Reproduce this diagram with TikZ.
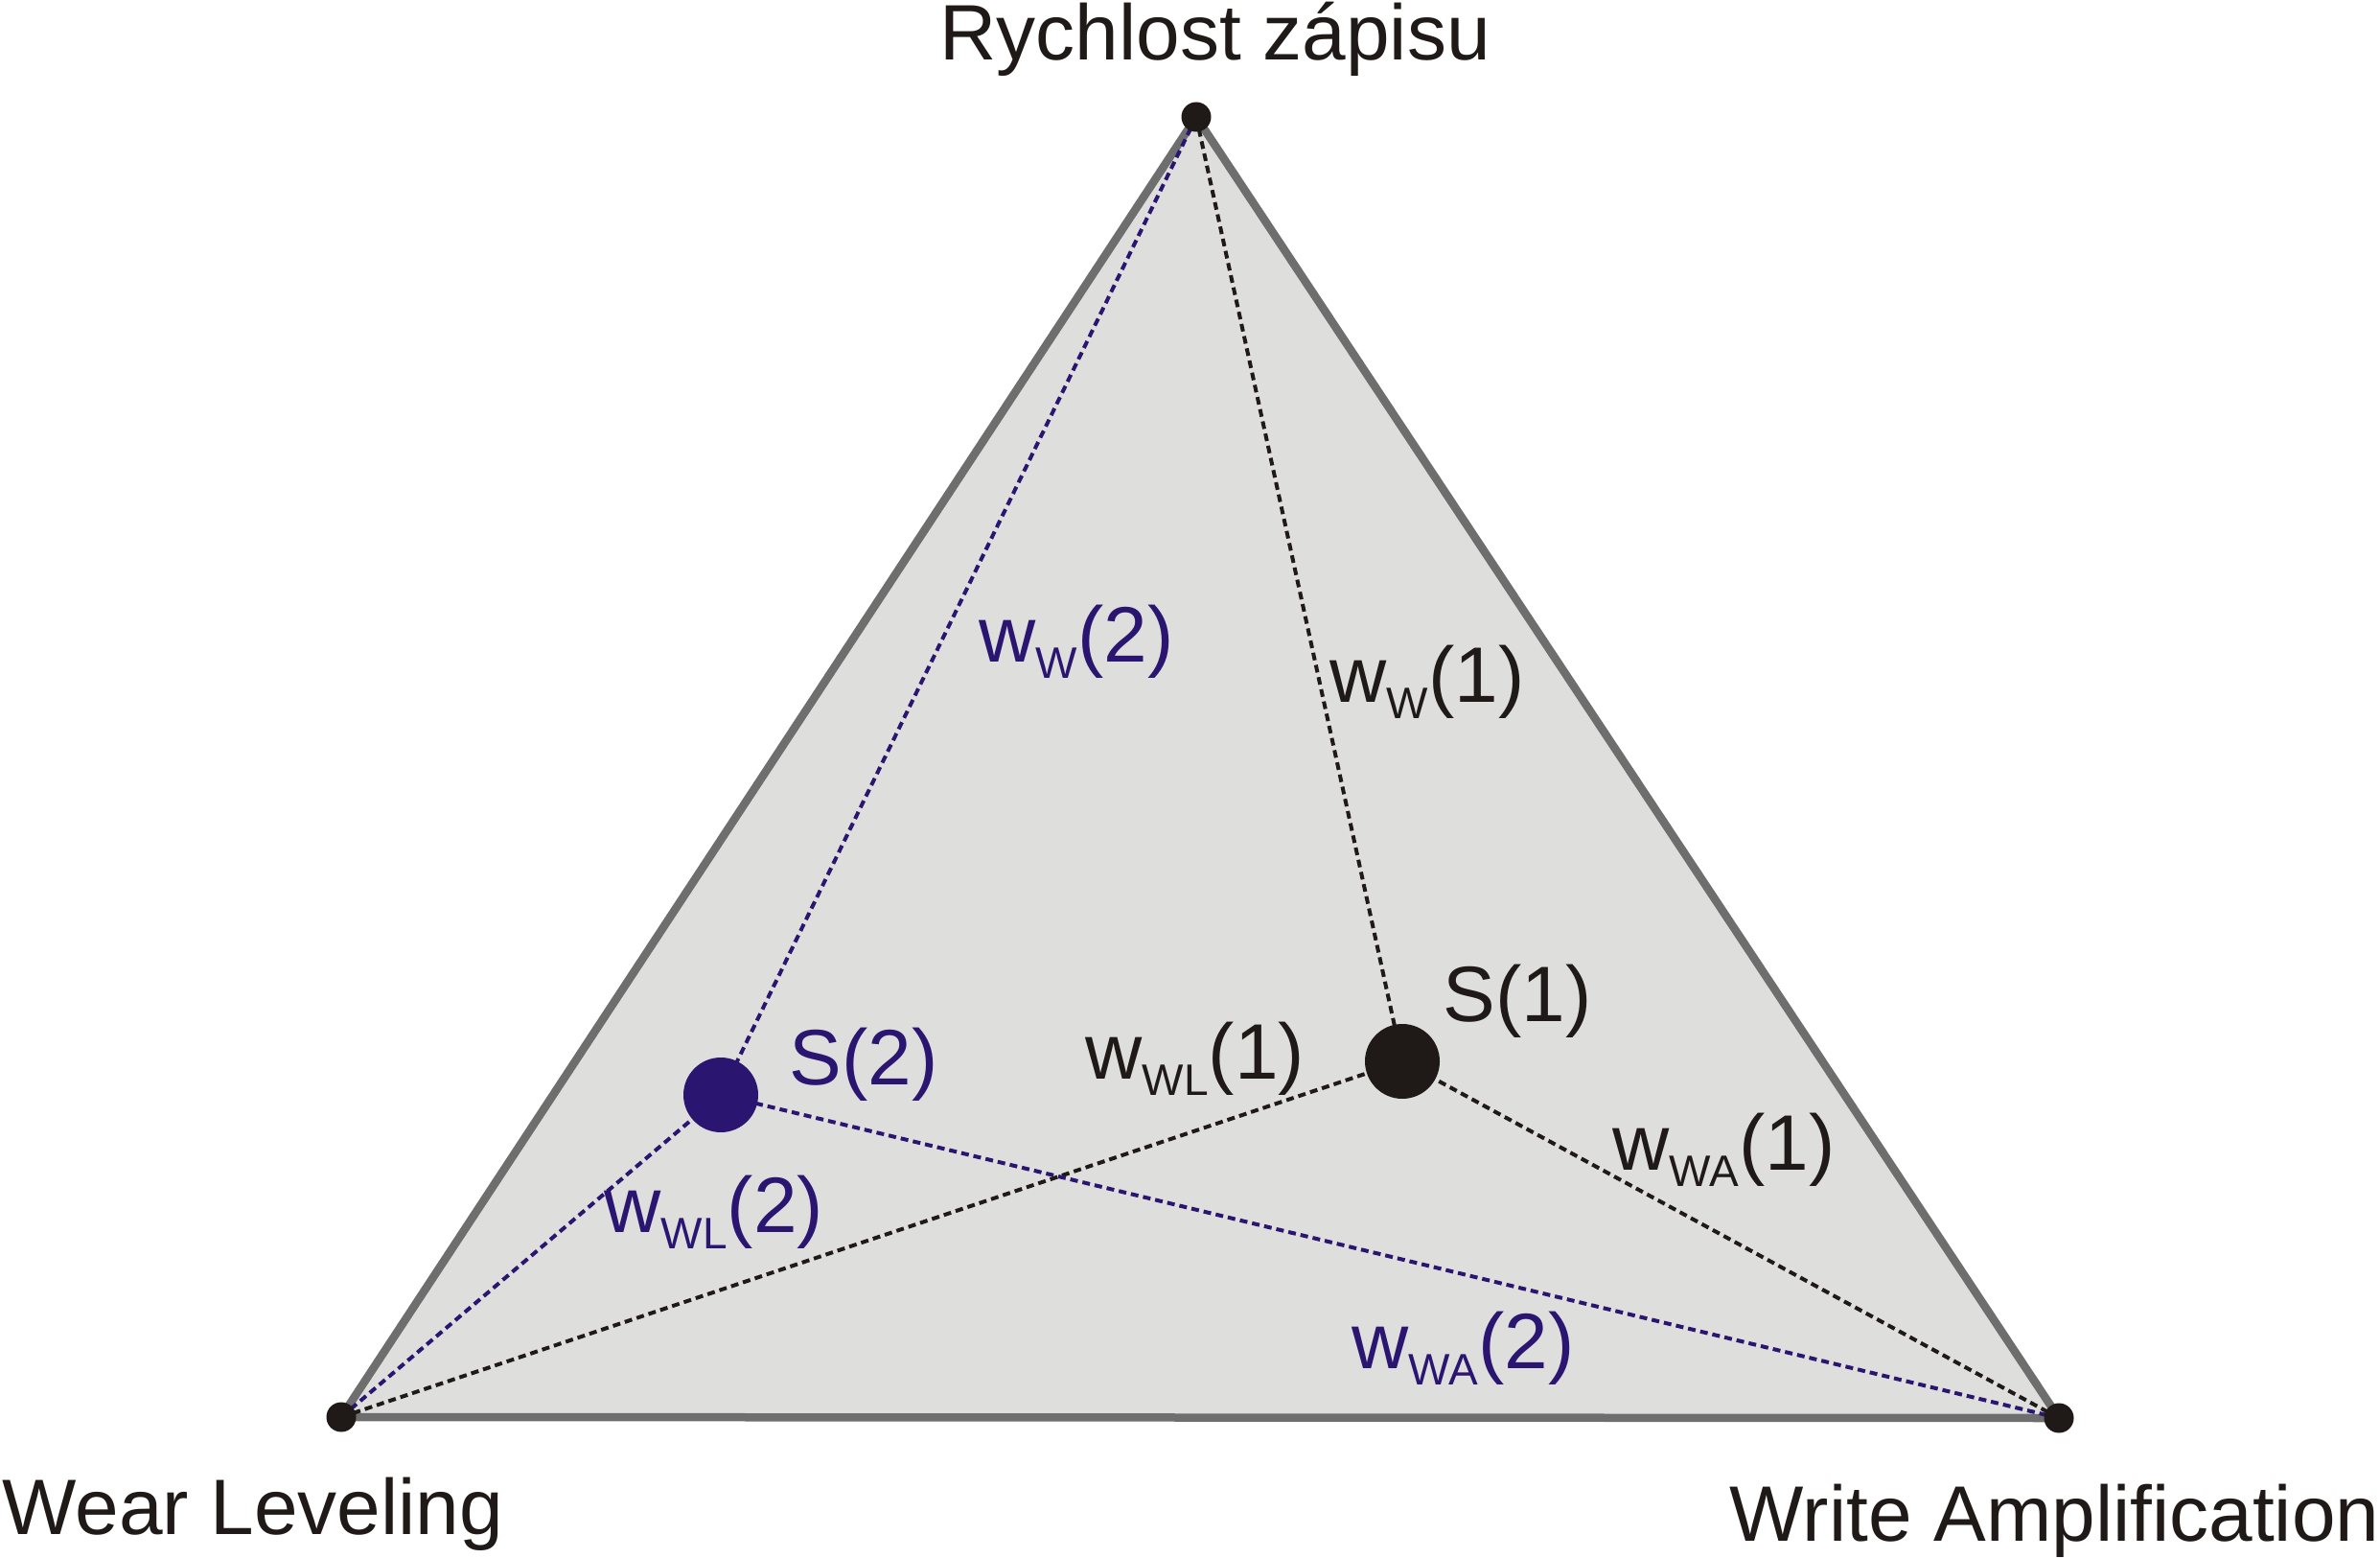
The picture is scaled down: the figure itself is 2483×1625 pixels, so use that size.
\documentclass[tikz,border=0pt]{standalone}
\usepackage{fontspec}
\setmainfont{Liberation Sans}
\definecolor{navy}{HTML}{2A1670}
\definecolor{ink}{HTML}{1F1A17}
\definecolor{panel}{HTML}{DEDEDD}
\definecolor{rim}{HTML}{6E6E6E}
\newcommand{\wlab}[2]{w\raisebox{-5.1pt}{\fontsize{13.8}{14}\selectfont #1}(#2)}
\tikzset{
  corner/.style={circle, fill=ink, inner sep=0pt, minimum size=9.3pt},
  solution/.style={circle, inner sep=0pt, minimum size=23.4pt},
  link/.style={dash pattern=on 2.4pt off 1.5pt, line width=1.2pt},
  axislabel/.style={font=\fontsize{24.6}{28}\selectfont, inner sep=0pt, text=ink, anchor=base west},
  weight/.style={font=\fontsize{24.6}{28}\selectfont, inner sep=0pt, anchor=base west},
}
\begin{document}
\begin{tikzpicture}[x=0.3pt,y=-0.3pt]
  \useasboundingbox (0,0) rectangle (2483,1625);

  \coordinate (top) at (1248,122);
  \coordinate (left) at (356,1478);
  \coordinate (right) at (2148,1479);
  \coordinate (s1) at (1463,1107);
  \coordinate (s2) at (752,1142);

  % triangle
  \filldraw[fill=panel, draw=rim, line width=2.55pt] (top) -- (left) -- (right) -- cycle;

  % weights of S(1)
  \draw[link, ink] (top) -- (s1);
  \draw[link, ink] (left) -- (s1);
  \draw[link, ink] (right) -- (s1);

  % weights of S(2)
  \draw[link, navy] (top) -- (s2);
  \draw[link, navy] (left) -- (s2);
  \draw[link, navy] (right) -- (s2);

  \node[corner] (topdot) at (top) {};
  \node[corner] (leftdot) at (left) {};
  \node[corner] (rightdot) at (right) {};
  \node[solution, fill=ink] (s1dot) at (s1) {};
  \node[solution, fill=navy] (s2dot) at (s2) {};

  \node[axislabel] (speed) at (980,63) {Rychlost zápisu};
  \node[axislabel] (wear) at (2,1600) {Wear Leveling};
  \node[axislabel, anchor=base east] (ampl) at (2483,1607) {Write Amplification};

  \node[weight, text=ink] (s1lab) at (1505,1065) {S(1)};
  \node[weight, text=navy] (s2lab) at (823,1131) {S(2)};
  \node[weight, text=ink] (w1) at (1387,733) {\wlab{W}{1}};
  \node[weight, text=ink] (wl1) at (1132,1125) {\wlab{WL}{1}};
  \node[weight, text=ink] (wa1) at (1682,1220) {\wlab{WA}{1}};
  \node[weight, text=navy] (w2) at (1021,691) {\wlab{W}{2}};
  \node[weight, text=navy] (wl2) at (630,1285) {\wlab{WL}{2}};
  \node[weight, text=navy] (wa2) at (1410,1427) {\wlab{WA}{2}};
\end{tikzpicture}
\end{document}
